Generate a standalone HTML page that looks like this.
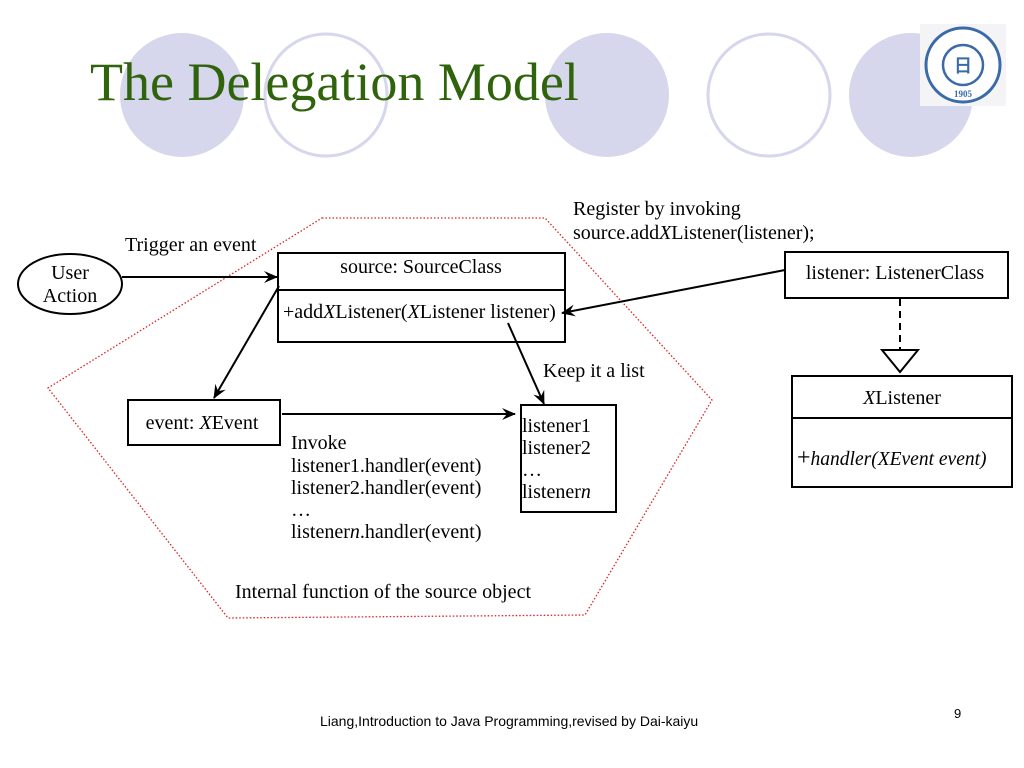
<!DOCTYPE html>
<html><head><meta charset="utf-8">
<style>
html,body{margin:0;padding:0;background:#fff;}
svg{display:block;}
text{font-family:"Liberation Serif",serif;fill:#000;}
</style></head><body>
<svg width="1024" height="768" viewBox="0 0 1024 768" xmlns="http://www.w3.org/2000/svg">
<defs>
<marker id="a" markerWidth="14" markerHeight="12" refX="13" refY="6" orient="auto" markerUnits="userSpaceOnUse">
<path d="M0,0 L14,6 L0,12 L5,6 Z" fill="#000"/>
</marker>
</defs>
<circle cx="182" cy="95" r="62" fill="#d6d6ec"/>
<circle cx="326" cy="95" r="61" fill="none" stroke="#d6d6ec" stroke-width="3"/>
<circle cx="607" cy="95" r="62" fill="#d6d6ec"/>
<circle cx="769" cy="95" r="61" fill="none" stroke="#d6d6ec" stroke-width="3"/>
<circle cx="911" cy="95" r="62" fill="#d6d6ec"/>
<rect x="920" y="24" width="86" height="82" fill="#f4f4f6"/>
<circle cx="963" cy="65" r="37" fill="#fff" stroke="#3a6aa8" stroke-width="3"/>
<circle cx="963" cy="65" r="20" fill="none" stroke="#3a6aa8" stroke-width="2.5"/>
<text x="963" y="72" font-size="18" text-anchor="middle" style="fill:#3a6aa8;font-weight:bold">日</text>
<text x="963" y="97" font-size="9" text-anchor="middle" style="fill:#3a6aa8;font-weight:bold">1905</text>
<text x="90" y="100" font-size="54" style="fill:#2f630c">The Delegation Model</text>

<polygon points="322,218 545,218 712,400 585,615 228,618 48,388" fill="none" stroke="#e02020" stroke-width="1.3" stroke-dasharray="1.5,2"/>

<ellipse cx="70" cy="284" rx="52" ry="30" fill="#fff" stroke="#000" stroke-width="2"/>
<text x="70" y="279" font-size="20" text-anchor="middle">User</text>
<text x="70" y="302" font-size="20" text-anchor="middle">Action</text>
<text x="125" y="251" font-size="20">Trigger an event</text>
<line x1="122" y1="277" x2="277" y2="277" stroke="#000" stroke-width="2" marker-end="url(#a)"/>

<rect x="278" y="253" width="287" height="89" fill="none" stroke="#000" stroke-width="2"/>
<line x1="278" y1="290" x2="565" y2="290" stroke="#000" stroke-width="2"/>
<text x="421" y="273" font-size="20" text-anchor="middle">source: SourceClass</text>
<text x="283" y="318" font-size="20">+add<tspan font-style="italic">X</tspan>Listener(<tspan font-style="italic">X</tspan>Listener listener)</text>

<text x="573" y="215" font-size="20">Register by invoking</text>
<text x="573" y="239" font-size="20">source.add<tspan font-style="italic">X</tspan>Listener(listener);</text>
<rect x="785" y="252" width="223" height="46" fill="#fff" stroke="#000" stroke-width="2"/>
<text x="895" y="279" font-size="20" text-anchor="middle">listener: ListenerClass</text>
<line x1="785" y1="270" x2="562" y2="313" stroke="#000" stroke-width="2" marker-end="url(#a)"/>

<line x1="900" y1="299" x2="900" y2="350" stroke="#000" stroke-width="2" stroke-dasharray="7,5"/>
<polygon points="882,350 918,350 900,372" fill="#fff" stroke="#000" stroke-width="2"/>
<rect x="792" y="376" width="220" height="111" fill="#fff" stroke="#000" stroke-width="2"/>
<line x1="792" y1="418" x2="1012" y2="418" stroke="#000" stroke-width="2"/>
<text x="902" y="404" font-size="20" text-anchor="middle"><tspan font-style="italic">X</tspan>Listener</text>
<text x="797" y="465" font-size="20"><tspan font-size="24">+</tspan><tspan font-style="italic" font-size="19.5">handler(XEvent event)</tspan></text>

<line x1="279" y1="286" x2="214" y2="398" stroke="#000" stroke-width="2" marker-end="url(#a)"/>
<rect x="128" y="400" width="152" height="45" fill="#fff" stroke="#000" stroke-width="2"/>
<text x="202" y="429" font-size="20" text-anchor="middle">event: <tspan font-style="italic">X</tspan>Event</text>
<line x1="282" y1="414" x2="515" y2="414" stroke="#000" stroke-width="2" marker-end="url(#a)"/>

<line x1="508" y1="323" x2="544" y2="404" stroke="#000" stroke-width="2" marker-end="url(#a)"/>
<text x="543" y="377" font-size="20">Keep it a list</text>
<rect x="521" y="405" width="95" height="107" fill="#fff" stroke="#000" stroke-width="2"/>
<text x="522" y="432" font-size="20">listener1</text>
<text x="522" y="454" font-size="20">listener2</text>
<text x="522" y="476" font-size="20">…</text>
<text x="522" y="498" font-size="20">listener<tspan font-style="italic">n</tspan></text>

<text x="291" y="449" font-size="20">Invoke</text>
<text x="291" y="472" font-size="20">listener1.handler(event)</text>
<text x="291" y="494" font-size="20">listener2.handler(event)</text>
<text x="291" y="516" font-size="20">…</text>
<text x="291" y="538" font-size="20">listener<tspan font-style="italic">n</tspan>.handler(event)</text>

<text x="235" y="598" font-size="20">Internal function of the source object</text>

<text x="320" y="726" font-size="14" style="font-family:'Liberation Sans',sans-serif">Liang,Introduction to Java Programming,revised by Dai-kaiyu</text>
<text x="954" y="718" font-size="13" style="font-family:'Liberation Sans',sans-serif">9</text>
</svg>
</body></html>
